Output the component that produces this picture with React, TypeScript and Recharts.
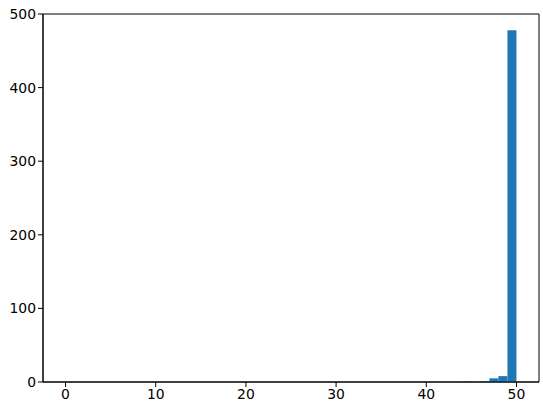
import { BarChart, Bar, XAxis, YAxis, ReferenceArea } from "recharts";

// histogram: 50 bins of width 1 over [0, 50]
const binCenters = Array.from({ length: 50 }, (_, i) => i + 0.5);
const counts = [
  0, 0, 0, 0, 0, 0, 0, 0, 0, 0,
  0, 0, 0, 0, 0, 0, 0, 0, 0, 0,
  0, 0, 0, 0, 0, 0, 0, 0, 0, 0,
  0, 0, 0, 0, 0, 0, 0, 0, 0, 0,
  0, 0, 0, 0, 1, 0, 1, 5, 8, 478,
];
const xTicks = [0, 10, 20, 30, 40, 50];
const yTicks = [0, 100, 200, 300, 400, 500];

const data = binCenters.map((x, i) => ({ x, count: counts[i] }));

const tickStyle = { fontSize: 13.9, fill: "#000", fontFamily: "DejaVu Sans" };

export default function App() {
  return (
    <div style={{ width: 543, height: 414, background: "#fff" }}>
      <style>{"body{margin:0}"}</style>
      <BarChart
        width={543}
        height={414}
        data={data}
        margin={{ top: 14, right: 4, bottom: 0, left: 0 }}
        barCategoryGap={0}
        barGap={0}
      >
        <XAxis
          dataKey="x"
          type="number"
          domain={[-2.5, 52.5]}
          ticks={xTicks}
          height={32}
          tick={tickStyle}
          tickSize={5}
          tickLine={{ stroke: "#000" }}
          axisLine={{ stroke: "#000" }}
          allowDataOverflow
        />
        <YAxis
          domain={[0, 500]}
          ticks={yTicks}
          width={43}
          tick={tickStyle}
          tickSize={5}
          tickLine={{ stroke: "#000" }}
          axisLine={{ stroke: "#000" }}
        />
        <Bar dataKey="count" fill="#1f77b4" isAnimationActive={false} />
        <ReferenceArea
          x1={-2.5}
          x2={52.5}
          y1={0}
          y2={500}
          fill="none"
          fillOpacity={0}
          stroke="#000"
          strokeWidth={1}
          ifOverflow="visible"
        />
      </BarChart>
    </div>
  );
}
